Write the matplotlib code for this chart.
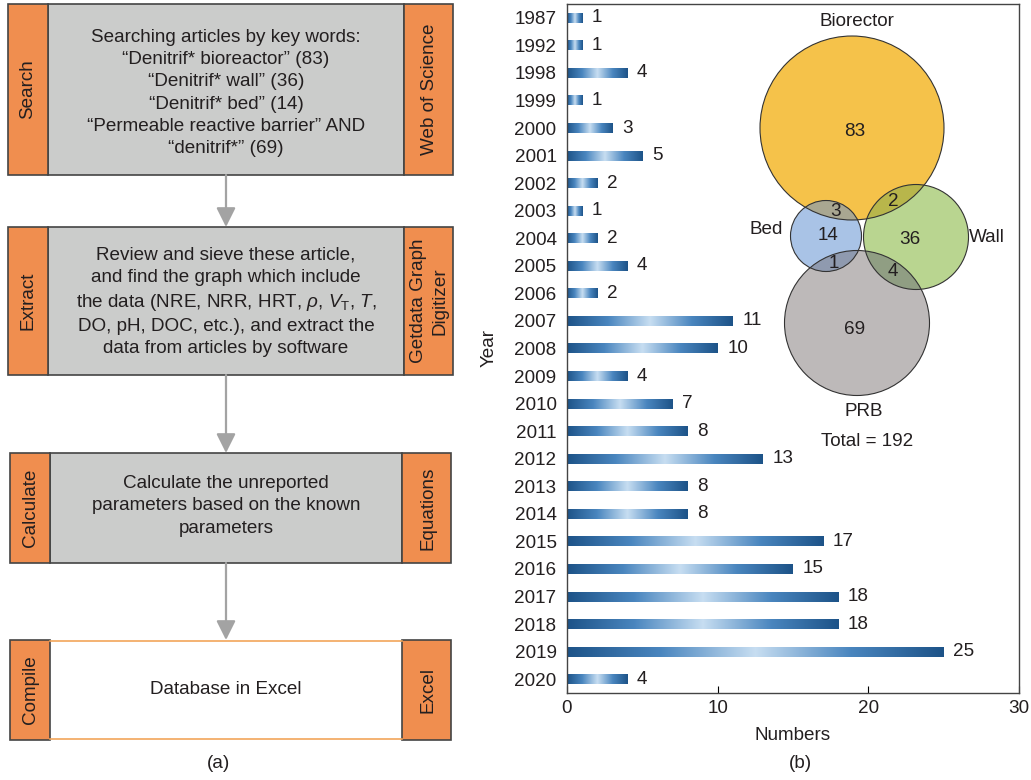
import matplotlib
matplotlib.use("Agg")
import matplotlib.pyplot as plt
import numpy as np
from matplotlib.patches import Rectangle, Circle
from matplotlib.colors import LinearSegmentedColormap

plt.rcParams['font.family'] = ['Liberation Sans', 'DejaVu Sans']
plt.rcParams['mathtext.fontset'] = 'custom'
plt.rcParams['mathtext.rm'] = 'Liberation Sans'
plt.rcParams['mathtext.it'] = 'Liberation Sans:italic'

# ---- data ----
years = ["1987", "1992", "1998", "1999", "2000", "2001", "2002", "2003", "2004",
         "2005", "2006", "2007", "2008", "2009", "2010", "2011", "2012", "2013",
         "2014", "2015", "2016", "2017", "2018", "2019", "2020"]
counts = [1, 1, 4, 1, 3, 5, 2, 1, 2, 4, 2, 11, 10, 4, 7, 8, 13, 8, 8, 17, 15,
          18, 18, 25, 4]

venn_sets = ["Biorector", "Bed", "Wall", "PRB"]
venn_sizes = [83, 14, 36, 69]
venn_overlaps = [("Biorector", "Bed", 3), ("Biorector", "Wall", 2),
                 ("Bed", "PRB", 1), ("Wall", "PRB", 4)]
venn_total = 192

steps = ["Search", "Extract", "Calculate", "Compile"]
step_text = [
    "Searching articles by key words:\n\u201cDenitrif* bioreactor\u201d (83)\n"
    "\u201cDenitrif* wall\u201d (36)\n\u201cDenitrif* bed\u201d (14)\n"
    "\u201cPermeable reactive barrier\u201d AND\n\u201cdenitrif*\u201d (69)",
    "Review and sieve these article,\nand find the graph which include\n"
    r"the data (NRE, NRR, HRT, $\rho$, $V_\mathrm{T}$, $T$," "\n"
    "DO, pH, DOC, etc.), and extract the\ndata from articles by software",
    "Calculate the unreported\nparameters based on the known\nparameters",
    "Database in Excel",
]
tools = ["Web of Science", "Getdata Graph\nDigitizer", "Equations", "Excel"]

# ---- style ----
ORANGE = "#f08e4f"
GRAY = "#cbcccb"
EDGE = "#444444"
TXT = "#231f20"
FS = 13.6

fig = plt.figure(figsize=(10.31, 7.80), dpi=100)

# ---- (b) bar chart ----
ax = fig.add_axes([567 / 1031, 1 - 693 / 780, (1019 - 567) / 1031, (693 - 4) / 780])
cmap = LinearSegmentedColormap.from_list("bar", ["#1d5388", "#4a86bf", "#c6ddf1"])
grad = 1 - np.abs(np.linspace(-1, 1, 256))
bh = 0.36
for i, v in enumerate(counts):
    ax.imshow(grad[np.newaxis, :], extent=[0, v, i + bh / 2, i - bh / 2],
              aspect='auto', cmap=cmap, interpolation='bilinear', zorder=2)
    ax.text(v + 0.65, i, str(v), va='center', ha='left', fontsize=FS, color=TXT)
ax.set_xlim(0, 30)
ax.set_ylim(len(years) - 0.5, -0.5)
ax.set_yticks(range(len(years)))
ax.set_yticklabels(years)
ax.set_xticks([0, 10, 20, 30])
ax.tick_params(axis='y', length=0, pad=7.5, labelsize=FS, labelcolor=TXT)
ax.tick_params(axis='x', direction='in', length=5, pad=5, labelsize=FS, labelcolor=TXT)
for s in ax.spines.values():
    s.set_color(EDGE)
    s.set_linewidth(1.0)
ax.set_xlabel("Numbers", fontsize=FS, color=TXT, labelpad=7)
ax.set_ylabel("Year", fontsize=FS, color=TXT, labelpad=12)

# ---- overlay in pixel coordinates ----
ov = fig.add_axes([0, 0, 1, 1], zorder=5)
ov.set_xlim(0, 1031)
ov.set_ylim(780, 0)
ov.axis('off')
ov.patch.set_alpha(0)

# flowchart
boxes = [(8, 4, 175, 48, 404, 453), (8, 227, 375, 48, 404, 453),
         (10, 453, 563, 50, 402, 451), (10, 640, 740, 50, 402, 451)]
text_y = [93, 302, 506, 689]
for k, (x0, y0, y1, xa, xb, x1) in enumerate(boxes):
    if k < 3:
        ov.add_patch(Rectangle((xa, y0), xb - xa, y1 - y0, fc=GRAY, ec=EDGE, lw=1.2))
    else:
        ov.add_patch(Rectangle((xa, y0), xb - xa, y1 - y0, fc='white', ec='none'))
        ov.plot([xa, xb], [y0 + 1, y0 + 1], color='#f2a55a', lw=1.2)
        ov.plot([xa, xb], [y1 - 1, y1 - 1], color='#f2a55a', lw=1.2)
    ov.add_patch(Rectangle((x0, y0), xa - x0, y1 - y0, fc=ORANGE, ec=EDGE, lw=1.2))
    ov.add_patch(Rectangle((xb, y0), x1 - xb, y1 - y0, fc=ORANGE, ec=EDGE, lw=1.2))
    ov.text((x0 + xa) / 2, (y0 + y1) / 2, steps[k], rotation=90, ha='center',
            va='center', fontsize=FS, color=TXT)
    ov.text((xb + x1) / 2 + 1, (y0 + y1) / 2, tools[k], rotation=90, ha='center',
            va='center', fontsize=FS, color=TXT, linespacing=1.35)
    ov.text((xa + xb) / 2, text_y[k], step_text[k], ha='center', va='center',
            fontsize=FS, color=TXT, linespacing=1.4)
    if k < 3:
        ov.annotate('', xy=(226, boxes[k + 1][1]), xytext=(226, y1),
                    arrowprops=dict(arrowstyle='-|>,head_length=0.9,head_width=0.45',
                                    color='#a3a3a3', lw=1.6, shrinkA=0, shrinkB=0,
                                    mutation_scale=13))
ov.text(219, 763, "(a)", ha='center', va='center', fontsize=FS, color=TXT)
ov.text(800, 763, "(b)", ha='center', va='center', fontsize=FS, color=TXT)

# venn diagram
venn_geom = {"Biorector": (852, 128, 92), "Bed": (826, 236, 35.5),
             "Wall": (916, 237, 52.5), "PRB": (857, 323, 72.5)}
venn_color = {"Biorector": "#f5c24a", "Bed": "#a9c3e6", "Wall": "#b9d590",
              "PRB": "#bdb9b9"}
overlap_color = {("Biorector", "Bed"): "#a9a791", ("Biorector", "Wall"): "#b8b64b",
                 ("Bed", "PRB"): "#8f9aaf", ("Wall", "PRB"): "#909e83"}
label_pos = {"Biorector": (857, 22), "Bed": (766, 229), "Wall": (987, 237),
             "PRB": (864, 412)}
count_pos = {"Biorector": (855, 131), "Bed": (828, 236), "Wall": (910, 240),
             "PRB": (855, 329)}
overlap_pos = {("Biorector", "Bed"): (836, 211), ("Biorector", "Wall"): (893, 201),
               ("Bed", "PRB"): (834, 263), ("Wall", "PRB"): (893, 272)}

for name, size in zip(venn_sets, venn_sizes):
    cx, cy, r = venn_geom[name]
    ov.add_patch(Circle((cx, cy), r, fc=venn_color[name], ec='none', zorder=2))
    ov.text(*count_pos[name], str(size), ha='center', va='center', fontsize=FS,
            color=TXT, zorder=5)
    ov.text(*label_pos[name], name, ha='center', va='center', fontsize=FS,
            color=TXT, zorder=5)
for a, b, n in venn_overlaps:
    ca = Circle(venn_geom[a][:2], venn_geom[a][2], transform=ov.transData)
    cb = Circle(venn_geom[b][:2], venn_geom[b][2], fc=overlap_color[(a, b)],
                ec='none', zorder=3)
    ov.add_patch(cb)
    cb.set_clip_path(ca)
    ov.text(*overlap_pos[(a, b)], str(n), ha='center', va='center', fontsize=FS,
            color=TXT, zorder=5)
for name in venn_sets:
    cx, cy, r = venn_geom[name]
    ov.add_patch(Circle((cx, cy), r, fc='none', ec='#333333', lw=0.8, zorder=4))
ov.text(867, 442, f"Total = {venn_total}", ha='center', va='center', fontsize=FS,
        color=TXT)

fig.savefig("out.png", dpi=100)
